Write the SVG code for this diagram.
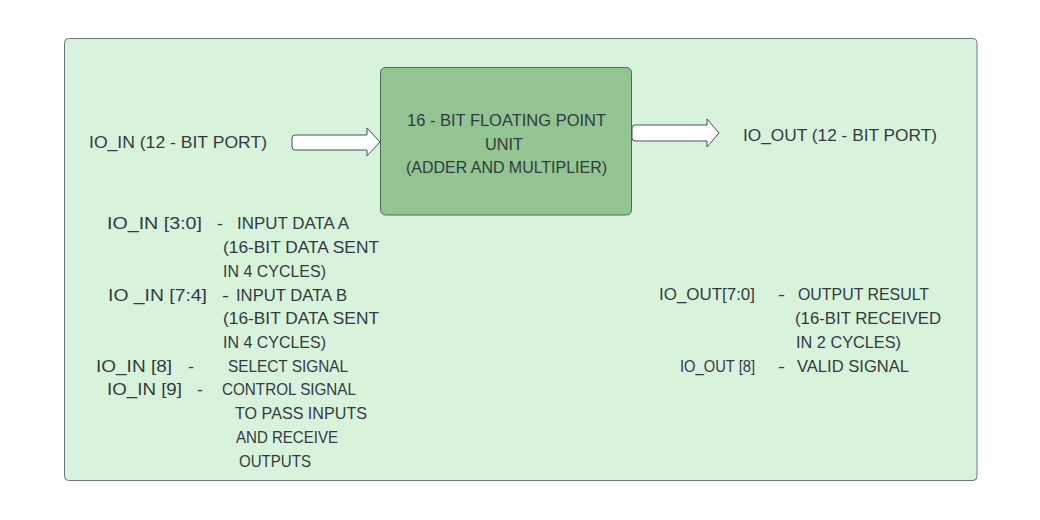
<svg xmlns="http://www.w3.org/2000/svg" width="1040" height="520" viewBox="0 0 1040 520">
<style>
  text { font-family: "Liberation Sans", Arial, sans-serif; font-size: 17px; fill: #343a40; white-space: pre; }
  .frame { fill: #d8f3dc; stroke: #6c757d; stroke-width: 1; }
  .unit { fill: #93c593; stroke: #4f6b52; stroke-width: 1; }
  .arrow { fill: #ffffff; stroke: #495057; stroke-width: 1; stroke-linejoin: round; }
</style>
<rect width="1040" height="520" fill="#ffffff"/>
<g id="frame">
  <rect class="frame" x="64.5" y="38.5" width="912.5" height="442" rx="4"/>
</g>
<g id="fpu">
  <rect class="unit" x="380.5" y="67.5" width="251" height="147.5" rx="5"/>
  <text x="407" y="126" textLength="199" lengthAdjust="spacingAndGlyphs">16 - BIT FLOATING POINT</text>
  <text x="485" y="150" textLength="38" lengthAdjust="spacingAndGlyphs">UNIT</text>
  <text x="406" y="173" textLength="201" lengthAdjust="spacingAndGlyphs">(ADDER AND MULTIPLIER)</text>
</g>
<g id="io-in-label">
  <text x="89" y="148" textLength="178" lengthAdjust="spacingAndGlyphs">IO_IN (12 - BIT PORT)</text>
</g>
<g id="io-out-label">
  <text x="743" y="141" textLength="194" lengthAdjust="spacingAndGlyphs">IO_OUT (12 - BIT PORT)</text>
</g>
<g id="connectors">
  <path class="arrow" d="M367,135 L295,135 Q292,135 292,138 L292,147 Q292,150 295,150 L367,150 L367,156 L380,142 L367,128 Z"/>
  <path class="arrow" d="M707,125 L635,125 Q632,125 632,128 L632,138 Q632,141 635,141 L707,141 L707,147 L719,133 L707,119 Z"/>
</g>
<g id="io-in-description">
  <text x="107" y="229" textLength="95" lengthAdjust="spacingAndGlyphs">IO_IN [3:0]</text>
  <text x="217" y="229" textLength="6" lengthAdjust="spacingAndGlyphs">-</text>
  <text x="237" y="229" textLength="112" lengthAdjust="spacingAndGlyphs">INPUT DATA A</text>
  <text x="223" y="253" textLength="156" lengthAdjust="spacingAndGlyphs">(16-BIT DATA SENT</text>
  <text x="223" y="276.5" textLength="103" lengthAdjust="spacingAndGlyphs">IN 4 CYCLES)</text>
  <text x="108" y="300.5" textLength="99" lengthAdjust="spacingAndGlyphs">IO _IN [7:4]</text>
  <text x="222" y="300.5" textLength="7" lengthAdjust="spacingAndGlyphs">-</text>
  <text x="236" y="300.5" textLength="111" lengthAdjust="spacingAndGlyphs">INPUT DATA B</text>
  <text x="223" y="324" textLength="156" lengthAdjust="spacingAndGlyphs">(16-BIT DATA SENT</text>
  <text x="223" y="348" textLength="103" lengthAdjust="spacingAndGlyphs">IN 4 CYCLES)</text>
  <text x="96" y="371.5" textLength="76" lengthAdjust="spacingAndGlyphs">IO_IN [8]</text>
  <text x="188" y="371.5" textLength="6" lengthAdjust="spacingAndGlyphs">-</text>
  <text x="228" y="371.5" textLength="120" lengthAdjust="spacingAndGlyphs">SELECT SIGNAL</text>
  <text x="107" y="395" textLength="75" lengthAdjust="spacingAndGlyphs">IO_IN [9]</text>
  <text x="197" y="395" textLength="6" lengthAdjust="spacingAndGlyphs">-</text>
  <text x="222" y="395" textLength="134" lengthAdjust="spacingAndGlyphs">CONTROL SIGNAL</text>
  <text x="235" y="419" textLength="132" lengthAdjust="spacingAndGlyphs">TO PASS INPUTS</text>
  <text x="236" y="443" textLength="102" lengthAdjust="spacingAndGlyphs">AND RECEIVE</text>
  <text x="239" y="466.5" textLength="72" lengthAdjust="spacingAndGlyphs">OUTPUTS</text>
</g>
<g id="io-out-description">
  <text x="659" y="300" textLength="96" lengthAdjust="spacingAndGlyphs">IO_OUT[7:0]</text>
  <text x="778" y="300" textLength="7" lengthAdjust="spacingAndGlyphs">-</text>
  <text x="798" y="300" textLength="131" lengthAdjust="spacingAndGlyphs">OUTPUT RESULT</text>
  <text x="795" y="324" textLength="146" lengthAdjust="spacingAndGlyphs">(16-BIT RECEIVED</text>
  <text x="796" y="347.5" textLength="105" lengthAdjust="spacingAndGlyphs">IN 2 CYCLES)</text>
  <text x="680" y="371.5" textLength="75" lengthAdjust="spacingAndGlyphs">IO_OUT [8]</text>
  <text x="778" y="371.5" textLength="7" lengthAdjust="spacingAndGlyphs">-</text>
  <text x="797" y="371.5" textLength="112" lengthAdjust="spacingAndGlyphs">VALID SIGNAL</text>
</g>
</svg>
